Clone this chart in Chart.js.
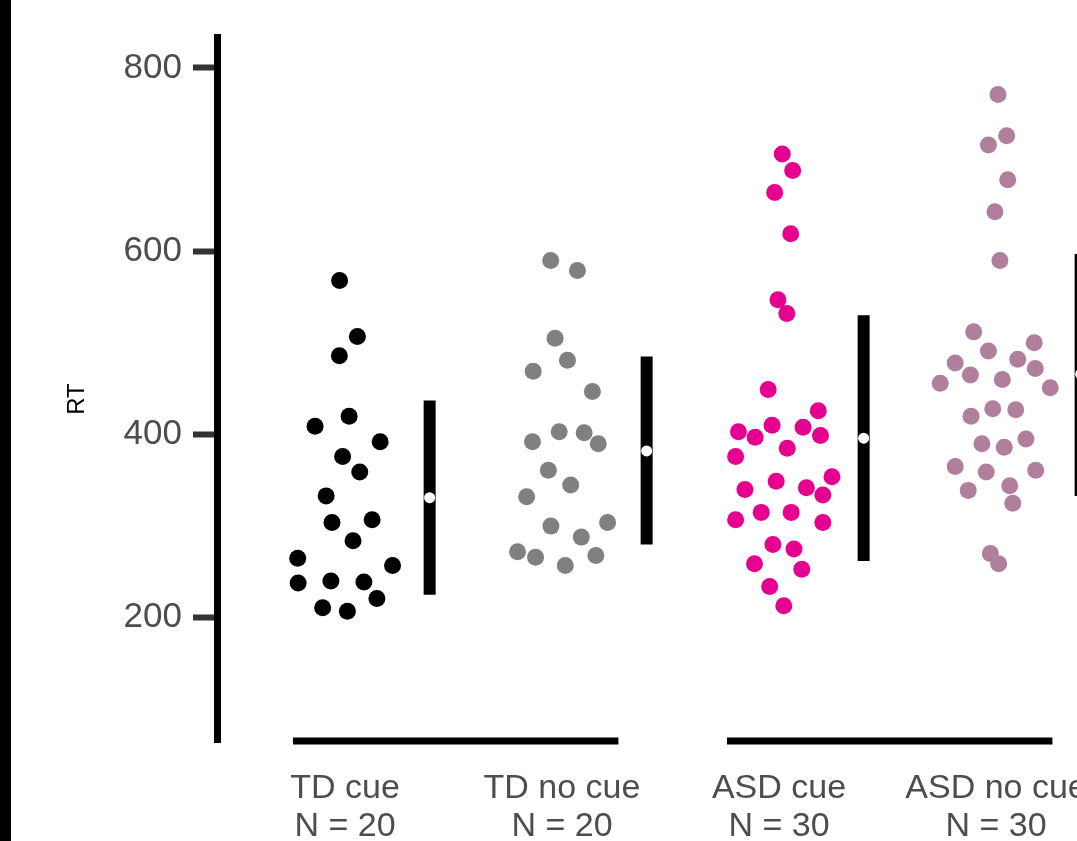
<!DOCTYPE html>
<html>
<head>
<meta charset="utf-8">
<title>RT by group</title>
<script src="https://cdn.jsdelivr.net/npm/chart.js@4/dist/chart.umd.min.js"></script>
<style>
  body { margin: 0; background: #fff; }
  canvas { display: block; }
</style>
</head>
<body>
<canvas id="rtChart" width="1077" height="841"></canvas>
<script>
// Groups in plotting order (x = 1..4)
const groups = ['TD cue', 'TD no cue', 'ASD cue', 'ASD no cue'];
const groupColours = ['#000000', '#808080', '#e6008f', '#b07f9c'];

// Single RTs per group, with the sideways jitter (in group widths)
const tdCueRT = [568, 507, 486, 420, 409, 392, 376, 359, 333, 304, 307, 284, 265, 257, 238, 240, 239, 221, 211, 207];
const tdCueJitter = [-0.025, 0.057, -0.026, 0.019, -0.138, 0.162, -0.011, 0.068, -0.087, -0.060, 0.125, 0.037, -0.218, 0.219, -0.216, -0.065, 0.087, 0.147, -0.103, 0.011];

const tdNoCueRT = [590, 579, 505, 481, 469, 447, 392, 403, 402, 390, 361, 345, 332, 300, 304, 288, 272, 266, 268, 257];
const tdNoCueJitter = [-0.052, 0.071, -0.032, 0.025, -0.133, 0.140, -0.136, -0.013, 0.102, 0.167, -0.063, 0.040, -0.163, -0.051, 0.210, 0.089, -0.205, -0.122, 0.156, 0.015];

const asdCueRT = [706, 688, 664, 619, 547, 532, 449, 426, 403, 397, 410, 408, 399, 385, 376, 354, 349, 340, 342, 334, 315, 315, 307, 304, 280, 275, 259, 253, 234, 213];
const asdCueJitter = [0.015, 0.063, -0.020, 0.054, -0.005, 0.036, -0.050, 0.181, -0.187, -0.110, -0.032, 0.111, 0.191, 0.038, -0.200, 0.244, -0.013, -0.157, 0.126, 0.202, -0.082, 0.056, -0.200, 0.202, -0.028, 0.069, -0.113, 0.105, -0.043, 0.022];

const asdNoCueRT = [771, 726, 716, 678, 643, 590, 512, 500, 491, 478, 482, 472, 465, 460, 456, 451, 428, 427, 420, 395, 390, 386, 365, 359, 361, 339, 344, 325, 270, 259];
const asdNoCueJitter = [0.009, 0.049, -0.035, 0.054, -0.005, 0.018, -0.103, 0.176, -0.035, -0.188, 0.100, 0.181, -0.118, 0.029, -0.257, 0.250, -0.015, 0.091, -0.115, 0.138, -0.065, 0.038, -0.188, -0.045, 0.183, -0.128, 0.063, 0.077, -0.026, 0.012];

// Mean and mean +/- sd per group
const meanRT = [331, 382, 396, 466];
const lowRT = [225, 280, 262, 333];
const highRT = [437, 485, 530, 597];

const yTicks = [200, 400, 600, 800];
const yLabel = 'RT';

const allRT = [tdCueRT, tdNoCueRT, asdCueRT, asdNoCueRT];
const allJitter = [tdCueJitter, tdNoCueJitter, asdCueJitter, asdNoCueJitter];

// error bars sit to the right of each swarm
const barOffset = 0.39;

function swarmPoints(values, jitter, pos) {
    return values.map((v, i) => ({ x: pos + jitter[i], y: v }));
}

let datasets = [];

// mean dots first so they end up on top
datasets.push({
    data: meanRT.map((m, i) => ({ x: i + 1 + barOffset, y: m })),
    pointRadius: 5.5,
    pointBackgroundColor: '#ffffff',
    pointBorderWidth: 0
});

// sd bars
groups.forEach((g, i) => {
    datasets.push({
        type: 'line',
        data: [{ x: i + 1 + barOffset, y: lowRT[i] }, { x: i + 1 + barOffset, y: highRT[i] }],
        borderColor: '#000000',
        borderWidth: 12,
        borderCapStyle: 'butt',
        pointRadius: 0,
        showLine: true
    });
});

// swarms
groups.forEach((g, i) => {
    datasets.push({
        data: swarmPoints(allRT[i], allJitter[i], i + 1),
        pointRadius: 8.5,
        pointBackgroundColor: groupColours[i],
        pointBorderWidth: 0
    });
});

// black frame on the left edge, the y label and the two bracket lines under the pairs
const decorations = {
    id: 'decorations',
    afterDraw(chart) {
        let ctx = chart.ctx;
        let x = chart.scales.x;
        let y = chart.chartArea.bottom - 1;
        ctx.save();
        ctx.fillStyle = '#000';
        ctx.fillRect(0, 0, 11, chart.height);

        ctx.strokeStyle = '#000';
        ctx.lineWidth = 7;
        ctx.lineCap = 'butt';
        [[1, 2], [3, 4]].forEach(pair => {
            ctx.beginPath();
            ctx.moveTo(x.getPixelForValue(pair[0] - 0.24), y);
            ctx.lineTo(x.getPixelForValue(pair[1] + 0.26), y);
            ctx.stroke();
        });

        ctx.translate(77, 399);
        ctx.rotate(-Math.PI / 2);
        ctx.font = '24px "Liberation Sans", Arial, sans-serif';
        ctx.textAlign = 'center';
        ctx.textBaseline = 'middle';
        ctx.fillText(yLabel, 0, 0);
        ctx.restore();
    }
};

let cntx = document.getElementById('rtChart').getContext('2d');

let chart = new Chart(cntx, {
    type: 'scatter',
    data: { datasets: datasets },
    plugins: [decorations],
    options: {
        responsive: false,
        animation: false,
        events: [],
        layout: {
            autoPadding: false,
            padding: { top: 37, left: 0, right: 0, bottom: 0 }
        },
        plugins: {
            legend: { display: false },
            tooltip: { enabled: false }
        },
        scales: {
            x: {
                type: 'linear',
                min: 0.4101,
                max: 4.3732,
                grid: { display: false },
                border: { display: false },
                afterBuildTicks: scale => {
                    scale.ticks = groups.map((g, i) => ({ value: i + 1 }));
                },
                afterFit: scale => {
                    scale.height = 99;
                    scale.paddingLeft = 0;
                    scale.paddingRight = 0;
                },
                ticks: {
                    autoSkip: false,
                    maxRotation: 0,
                    minRotation: 0,
                    padding: 20,
                    color: '#4d4d4d',
                    font: { family: 'Liberation Sans, Arial, sans-serif', size: 34, lineHeight: 1.12 },
                    callback: (value, index) => [groups[index], 'N = ' + allRT[index].length]
                }
            },
            y: {
                min: 64.4,
                max: 833.8,
                grid: {
                    drawOnChartArea: false,
                    tickLength: 24,
                    tickWidth: 6,
                    tickColor: '#333333'
                },
                border: { display: true, color: '#000000', width: 7 },
                afterBuildTicks: scale => {
                    scale.ticks = yTicks.map(v => ({ value: v }));
                },
                afterFit: scale => {
                    scale.width = 217;
                    scale.paddingTop = 0;
                    scale.paddingBottom = 0;
                },
                ticks: {
                    padding: 11,
                    color: '#4d4d4d',
                    font: { family: 'Liberation Sans, Arial, sans-serif', size: 35 }
                }
            }
        }
    }
});
</script>
</body>
</html>
